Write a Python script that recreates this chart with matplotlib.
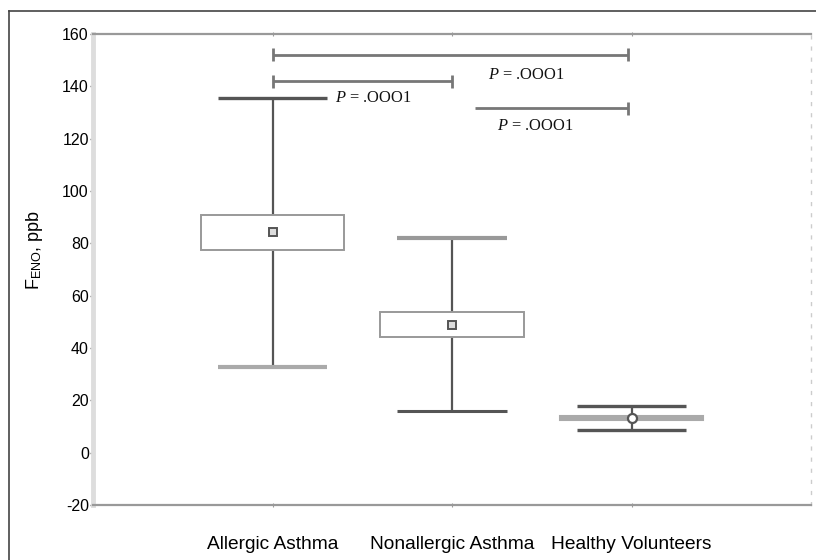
import matplotlib
matplotlib.use('Agg')
import matplotlib.pyplot as plt
from matplotlib.lines import Line2D

plt.rcParams['font.family'] = ['Liberation Sans', 'DejaVu Sans']
plt.rcParams['mathtext.fontset'] = 'custom'
plt.rcParams['mathtext.it'] = 'Liberation Serif:italic'
plt.rcParams['mathtext.rm'] = 'Liberation Serif'
plt.rcParams['axes.unicode_minus'] = False

# values
groups = ['Allergic Asthma', 'Nonallergic Asthma', 'Healthy Volunteers']
q1 = [77.3, 44.3, 12.6]
q3 = [91.0, 53.9, 14.0]
whisker_lo = [32.9, 16.0, 8.7]
whisker_hi = [135.5, 81.9, 17.9]
means = [84.2, 48.9, 13.3]

# significance brackets: start, end, height
brackets = [(1.0, 2.98, 152.0), (1.0, 2.0, 142.0), (2.13, 2.98, 131.7)]
p_labels = ['P = .OOO1', 'P = .OOO1', 'P = .OOO1']
p_pos = [(2.20, 144.3), (1.35, 135.5), (2.25, 124.8)]

pos = [1, 2, 3]

fig = plt.figure(figsize=(8.16, 5.6), dpi=100)
ax = fig.add_axes([93 / 816, 1 - 505 / 560, (811 - 93) / 816, (505 - 34) / 560])

# outer frame (only left and top edges fall inside the picture)
fig.add_artist(Line2D([9 / 816, 9 / 816], [0, 1 - 11 / 560], color='#444444', lw=1.2))
fig.add_artist(Line2D([9 / 816, 1], [1 - 11 / 560, 1 - 11 / 560], color='#444444', lw=1.2))

# boxes
ax.bar(pos[:2], [q3[i] - q1[i] for i in range(2)], bottom=q1[:2], width=0.8,
       fill=False, edgecolor='#999999', lw=1.4, zorder=3)
ax.bar(pos[2], q3[2] - q1[2], bottom=q1[2], width=0.8,
       color='#aaaaaa', edgecolor='#aaaaaa', lw=1.5, zorder=3)

# whiskers
ax.vlines(pos, q3, whisker_hi, color='#555555', lw=1.6, zorder=2)
ax.vlines(pos, whisker_lo, q1, color='#555555', lw=1.6, zorder=2)

# caps
hi_cap_col = ['#555555', '#999999', '#555555']
lo_cap_col = ['#aaaaaa', '#555555', '#555555']
hi_cap_lw = [2.4, 3.0, 2.4]
lo_cap_lw = [3.0, 2.2, 2.4]
for i, x in enumerate(pos):
    ax.hlines(whisker_hi[i], x - 0.305, x + 0.305, color=hi_cap_col[i], lw=hi_cap_lw[i], zorder=2)
    ax.hlines(whisker_lo[i], x - 0.305, x + 0.305, color=lo_cap_col[i], lw=lo_cap_lw[i], zorder=2)

# means
ax.plot(pos[:2], means[:2], 's', ms=5.5, mfc='#dddddd', mec='#555555', mew=1.4, zorder=4)
ax.plot(pos[2], means[2], 'o', ms=6.5, mfc='white', mec='#555555', mew=1.6, zorder=4)

# brackets
for i, (x0, x1, y) in enumerate(brackets):
    ax.hlines(y, x0, x1, color='#777777', lw=2.0)
    ax.vlines(x1, y - 2.5, y + 2.5, color='#777777', lw=2.0)
    if i < 2:
        ax.vlines(x0, y - 2.5, y + 2.5, color='#777777', lw=2.0)
for (x, y), s in zip(p_pos, p_labels):
    ax.text(x, y, '$P$' + s[1:], fontsize=11.8, family='Liberation Serif',
            ha='left', va='center', color='#111111')

ax.set_xlim(0, 4)
ax.set_ylim(-20, 160)
ax.set_yticks(range(-20, 161, 20))
ax.set_yticks([v / 2 for v in range(-40, 321, 5)], minor=True)
ax.set_xticks(pos)
ax.set_xticklabels(groups, fontsize=13.8)
ax.tick_params(axis='y', labelsize=11.5, length=2, width=1, color='#666666', pad=1)
ax.tick_params(axis='y', which='minor', length=1.5, width=1, color='#999999', direction='inout')
ax.tick_params(axis='x', length=2.5, color='#999999', direction='inout', top=True, pad=21)

for s in ['top', 'bottom']:
    ax.spines[s].set_color('#999999')
    ax.spines[s].set_linewidth(1.6)
ax.spines['left'].set_color('#dddddd')
ax.spines['left'].set_linewidth(3.5)
ax.spines['right'].set_color('#cccccc')
ax.spines['right'].set_linestyle((0, (2, 6)))
ax.spines['right'].set_linewidth(1.0)

ax.set_ylabel(r'F$_\mathregular{ENO}$, ppb', fontsize=13)
ax.yaxis.set_label_coords(-(93 - 45) / 718, (505 - 250) / 471)

fig.savefig('out.png', dpi=100)
